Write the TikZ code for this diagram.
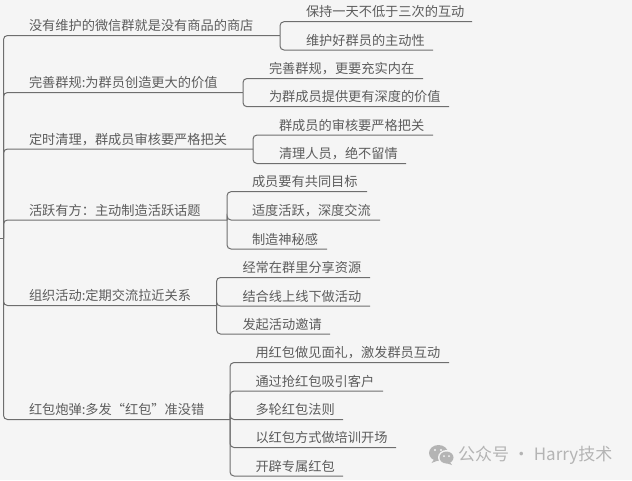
\documentclass[tikz,border=0pt]{standalone}
\usepackage{fontspec}
\setmainfont{Noto Sans CJK SC}
\definecolor{bgc}{HTML}{F5F5F5}
\definecolor{txtc}{HTML}{5C5C5C}
\definecolor{linec}{HTML}{6E6E6E}
\definecolor{markc}{HTML}{B4B4B4}
\tikzset{
  item/.style={anchor=south west,inner sep=0pt,outer sep=0pt,align=left,text=txtc,
    font=\fontsize{13.2}{15}\selectfont,text height=10pt,text depth=4.8pt},
  link/.style={draw=linec,line width=1pt,rounded corners=4pt},
  wmark/.style={anchor=west,inner sep=0pt,text=markc,font=\fontsize{17}{19}\selectfont}
}
\begin{document}
\begin{tikzpicture}[x=1pt,y=-1pt]
\fill[bgc] (0,0) rectangle (632,480);
\useasboundingbox (0,0) rectangle (632,480);
\coordinate (stub) at (0,238);
\coordinate (root) at (3.5,238);
% branches
\node[item,text width=276.5pt] (b1) at (3.5,35.5) {\hspace*{25.5pt}没有维护的微信群就是没有商品的商店};
\node[item,text width=239.5pt] (b2) at (3.5,92.5) {\hspace*{25.5pt}完善群规:为群员创造更大的价值};
\node[item,text width=249.5pt] (b3) at (3.5,149) {\hspace*{25.5pt}定时清理，群成员审核要严格把关};
\node[item,text width=223.5pt] (b4) at (3.5,220) {\hspace*{25.5pt}活跃有方：主动制造活跃话题};
\node[item,text width=213pt] (b5) at (3.5,305.5) {\hspace*{25.5pt}组织活动:定期交流拉近关系};
\node[item,text width=226.5pt] (b6) at (3.5,419.5) {\hspace*{25.5pt}红包炮弹:多发“红包”准没错};
% leaves
\node[item,text width=192pt] (c11) at (280,21.7) {\hspace*{26pt}保持一天不低于三次的互动};
\node[item,text width=153pt] (c12) at (280,50) {\hspace*{26pt}维护好群员的主动性};
\node[item,text width=180pt] (c21) at (243,78.5) {\hspace*{26pt}完善群规，更要充实内在};
\node[item,text width=206pt] (c22) at (243,106.7) {\hspace*{26pt}为群成员提供更有深度的价值};
\node[item,text width=180pt] (c31) at (253,135) {\hspace*{26pt}群成员的审核要严格把关};
\node[item,text width=153pt] (c32) at (253,163.5) {\hspace*{26pt}清理人员，绝不留情};
\node[item,text width=140pt] (c41) at (227,191.7) {\hspace*{25pt}成员要有共同目标};
\node[item,text width=153pt] (c42) at (227,220) {\hspace*{25pt}适度活跃，深度交流};
\node[item,text width=100pt] (c43) at (227,249) {\hspace*{25pt}制造神秘感};
\node[item,text width=153.5pt] (c51) at (216.5,277.5) {\hspace*{26pt}经常在群里分享资源};
\node[item,text width=153.5pt] (c52) at (216.5,306) {\hspace*{26pt}结合线上线下做活动};
\node[item,text width=113.5pt] (c53) at (216.5,334) {\hspace*{26pt}发起活动邀请};
\node[item,text width=219pt] (c61) at (230,362.5) {\hspace*{25.5pt}用红包做见面礼，激发群员互动};
\node[item,text width=153pt] (c62) at (230,391) {\hspace*{25.5pt}通过抢红包吸引客户};
\node[item,text width=113pt] (c63) at (230,419.5) {\hspace*{25.5pt}多轮红包法则};
\node[item,text width=166pt] (c64) at (230,447.5) {\hspace*{25.5pt}以红包方式做培训开场};
\node[item,text width=113pt] (c65) at (230,476) {\hspace*{25.5pt}开辟专属红包};
% connectors
\draw[link] (stub) -- (root);
\foreach \b in {1,...,6} \draw[link] (root) |- (b\b.south east);
\foreach \c in {1,2} \draw[link] (b1.south east) |- (c1\c.south east);
\foreach \c in {1,2} \draw[link] (b2.south east) |- (c2\c.south east);
\foreach \c in {1,2} \draw[link] (b3.south east) |- (c3\c.south east);
\foreach \c in {1,2,3} \draw[link] (b4.south east) |- (c4\c.south east);
\foreach \c in {1,2,3} \draw[link] (b5.south east) |- (c5\c.south east);
\foreach \c in {1,...,5} \draw[link] (b6.south east) |- (c6\c.south east);
% watermark
\begin{scope}
\fill[markc] (438.5,453) ellipse (9.5pt and 8pt);
\fill[markc] (434,459.5) -- (431.5,463) -- (438,460.5) -- cycle;
\fill[bgc] (446.5,457.5) ellipse (8.5pt and 7.5pt);
\fill[markc] (446.5,457.5) ellipse (7pt and 6pt);
\fill[markc] (450,462) -- (452,465) -- (446,463) -- cycle;
\fill[bgc] (435,450) circle (1.2pt) (441,450) circle (1.2pt);
\fill[bgc] (444,456) circle (1pt) (449,456) circle (1pt);
\end{scope}
\node[wmark] (wm) at (458,455) {公众号 · Harry技术};
\end{tikzpicture}
\end{document}
